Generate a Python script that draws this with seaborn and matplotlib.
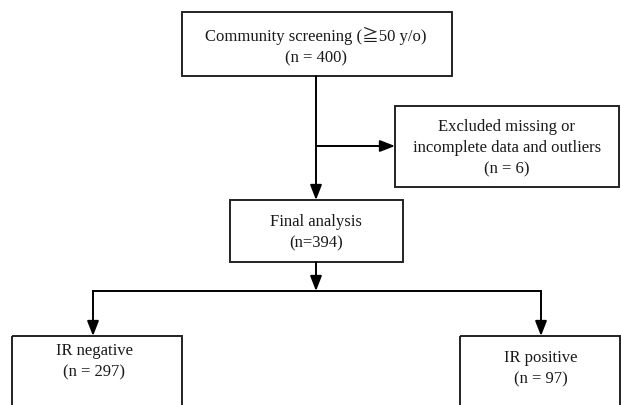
import matplotlib
matplotlib.use("Agg")
import matplotlib.pyplot as plt
import seaborn as sns

sns.set_theme(style="white")
plt.rcParams['font.family'] = ['Liberation Serif', 'Noto Sans CJK JP', 'DejaVu Sans']

# ---- data ----
stage_labels = ["Community screening (\u226750 y/o)", "Excluded missing or\nincomplete data and outliers",
                "Final analysis", "IR negative", "IR positive"]
stage_counts = ["(n = 400)", "(n = 6)", "(n=394)", "(n = 297)", "(n = 97)"]

# ---- layout (pixel coords, y down) ----
boxes = [  # left, top, right, bottom, text x, text y
    (182, 13, 452, 77, 316, 47),
    (395, 107, 619, 188, 507, 148),
    (230, 201, 403, 263, 316, 233),
    (12, 337, 182, 420, 94, 362),
    (460, 337, 620, 420, 541, 369),
]

fig = plt.figure(figsize=(6.21, 4.06), dpi=100)
ax = fig.add_axes([0, 0, 1, 1])
ax.set_xlim(0, 621)
ax.set_ylim(406, 0)
ax.axis("off")

edge = "#222222"
lw = 1.4
for (l, t, r, b, tx, ty), lab, cnt in zip(boxes, stage_labels, stage_counts):
    ax.add_patch(plt.Rectangle((l, t), r - l, b - t, fill=False, ec=edge, lw=lw, clip_on=True))
    ax.text(tx, ty, lab + "\n" + cnt, ha="center", va="center", fontsize=12,
            linespacing=1.45, color="#1a1a1a")

ap = dict(arrowstyle="-|>,head_length=0.9,head_width=0.35", color="black", lw=lw,
          shrinkA=0, shrinkB=0, mutation_scale=10)
# main vertical arrow
ax.annotate("", xy=(316, 201), xytext=(316, 77), arrowprops=ap)
# side arrow to exclusions
ax.annotate("", xy=(395, 147), xytext=(316, 147), arrowprops=ap)
# final to split line
ax.annotate("", xy=(316, 292), xytext=(316, 263), arrowprops=ap)
ax.plot([93, 541], [292, 292], color="black", lw=lw, solid_capstyle="projecting")
ax.annotate("", xy=(93, 337), xytext=(93, 292), arrowprops=ap)
ax.annotate("", xy=(541, 337), xytext=(541, 292), arrowprops=ap)

fig.savefig("out.png", dpi=100, facecolor="white")
